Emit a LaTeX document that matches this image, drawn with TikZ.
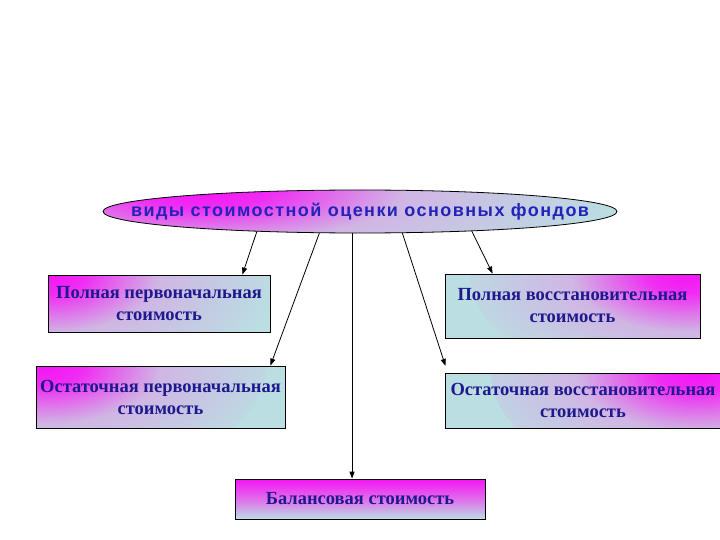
\documentclass[tikz,border=0pt]{standalone}
\usepackage{fontspec}
\setmainfont{Liberation Serif}
\newfontfamily\ellfont{Liberation Sans}[LetterSpace=8.0]
\usetikzlibrary{shapes.geometric,arrows.meta,calc}
\definecolor{mag}{RGB}{245,20,245}
\definecolor{lav}{RGB}{208,182,228}
\definecolor{lblue}{RGB}{186,222,226}
\definecolor{boxtext}{RGB}{30,25,140}
\definecolor{elltext}{RGB}{35,35,185}
\pgfdeclareradialshading{cornerglow}{\pgfpoint{0bp}{0bp}}{%
  color(0bp)=(mag); color(4bp)=(mag!85!lav); color(12bp)=(lav);
  color(25bp)=(lblue); color(50bp)=(lblue)}
\tikzset{
  >={Triangle[length=7pt,width=5pt]},
  kind/.style={draw=black,line width=0.8pt,align=center,inner sep=0pt,
    font=\fontsize{18.5}{22}\selectfont\bfseries,text=boxtext},
  fromleft/.style={kind,fill=lblue,path picture={
    \shade[shading=cornerglow] (path picture bounding box.north west) ellipse (230pt and 120pt);}},
  fromright/.style={kind,fill=lblue,path picture={
    \shade[shading=cornerglow] (path picture bounding box.north east) ellipse (230pt and 120pt);}},
  fromtop/.style={kind,top color=mag,bottom color=lblue,middle color={mag!45!lav}},
}

\begin{document}
\begin{tikzpicture}[
  x=1pt,y=-1pt,
  ->,
  every edge/.append style={line width=0.8pt}
]
\useasboundingbox (0,0) rectangle (720,540);

\node[ellipse,draw=black,line width=0.8pt,inner sep=0pt,
  minimum width=514pt,minimum height=43pt,fill=lblue,
  path picture={\shade[shading=cornerglow]
    ([xshift=100pt]path picture bounding box.north west) ellipse (420pt and 110pt);},
  text=elltext,font=\ellfont\fontsize{18}{20}\selectfont\bfseries]
  (vid) at (360,211.5) {\makebox[0pt]{виды стоимостной оценки основных фондов}};

\node[fromleft,minimum width=222pt,minimum height=57pt] (ppf) at (159,303.5)
  {Полная первоначальная\\стоимость};
\node[fromright,minimum width=255pt,minimum height=64pt] (pvf) at (572.5,306)
  {Полная восстановительная\\стоимость};
\node[fromleft,minimum width=249pt,minimum height=62pt] (opf) at (160.5,397)
  {Остаточная первоначальная\\стоимость};
\node[fromright,minimum width=276pt,minimum height=55pt] (ovf) at (583,400.5)
  {Остаточная восстановительная\\стоимость};
\node[fromtop,minimum width=250pt,minimum height=40pt] (bal) at (360,499)
  {Балансовая стоимость};

\path
(vid.191.3) edge ([xshift=-28pt]ppf.north east)
(vid.208.3) edge ([xshift=-15pt]opf.north east)
(vid.250) edge (vid.250 |- bal.north)
(vid.333.4) edge[shorten >=7pt] ([xshift=3pt]ovf.north west)
(vid.350.5) edge ([xshift=48pt]pvf.north west);

\end{tikzpicture}
\end{document}
